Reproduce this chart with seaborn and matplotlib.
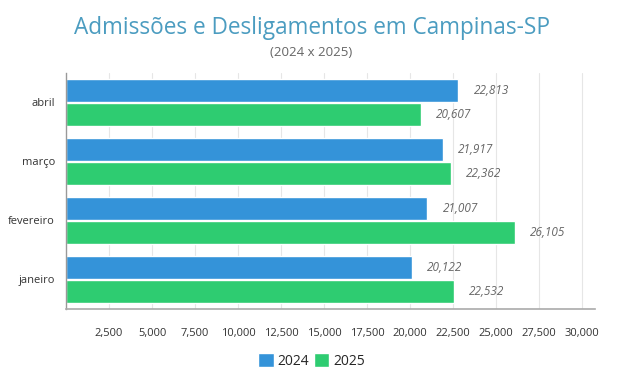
import matplotlib

matplotlib.use("Agg")
import matplotlib.pyplot as plt
import pandas as pd
import seaborn as sns
from matplotlib.patches import Patch

meses = ["abril", "março", "fevereiro", "janeiro"]
valores_2024 = [22813, 21917, 21007, 20122]
valores_2025 = [20607, 22362, 26105, 22532]
anos = ["2024", "2025"]
ticks_x = [2500, 5000, 7500, 10000, 12500, 15000, 17500, 20000, 22500, 25000, 27500, 30000]

cores = {"2024": "#3493d9", "2025": "#2ecc71"}

df = pd.DataFrame({
    "mes": meses * 2,
    "ano": ["2024"] * len(meses) + ["2025"] * len(meses),
    "valor": valores_2024 + valores_2025,
})

sns.set_theme(style="white")
plt.rcParams["font.family"] = ["Open Sans", "DejaVu Sans"]

fig = plt.figure(figsize=(6.23, 3.78), dpi=100)
ax = fig.add_axes([66 / 623, 69 / 378, 529 / 623, 236 / 378])

sns.barplot(
    data=df, y="mes", x="valor", hue="ano", order=meses, hue_order=anos,
    palette=cores, orient="h", width=0.82, gap=0.05, saturation=1,
    legend=False, ax=ax,
)

# rótulos de valor ao fim de cada barra
for container in ax.containers:
    for bar in container:
        w = bar.get_width()
        ax.annotate(
            f"{w:,.0f}", (w, bar.get_y() + bar.get_height() / 2),
            xytext=(11, 0), textcoords="offset points",
            ha="left", va="center", fontsize=8.5, style="italic", color="#666666",
        )

ax.set_xlim(0, 30750)
ax.set_ylim(3.5, -0.5)
ax.set_xticks(ticks_x)
ax.set_xticklabels([f"{t:,}" for t in ticks_x])
ax.xaxis.grid(True, color="#e6e6e6", linewidth=0.8)
ax.set_axisbelow(True)
ax.tick_params(axis="x", length=0, pad=14, labelsize=8, labelcolor="#333333")
ax.tick_params(axis="y", length=0, pad=8, labelsize=8, labelcolor="#333333")
ax.set_xlabel("")
ax.set_ylabel("")

for side in ["top", "right"]:
    ax.spines[side].set_visible(False)
ax.spines["left"].set_color("#999999")
ax.spines["bottom"].set_color("#aaaaaa")
ax.spines["left"].set_linewidth(1)
ax.spines["bottom"].set_linewidth(1.2)

fig.text(0.5, 0.925, "Admissões e Desligamentos em Campinas-SP",
         ha="center", va="center", fontsize=16.3, color="#4b9cc0")
fig.text(0.5, 0.862, "(2024 x 2025)", ha="center", va="center",
         fontsize=9.5, color="#666666")

handles = [Patch(facecolor=cores[a], label=a) for a in anos]
fig.legend(handles=handles, loc="center", bbox_to_anchor=(0.5, 0.045), ncol=2,
           frameon=False, fontsize=10, handlelength=1.1, handleheight=1.1,
           handletextpad=0.3, columnspacing=0.3)

fig.savefig("out.png", dpi=100)
